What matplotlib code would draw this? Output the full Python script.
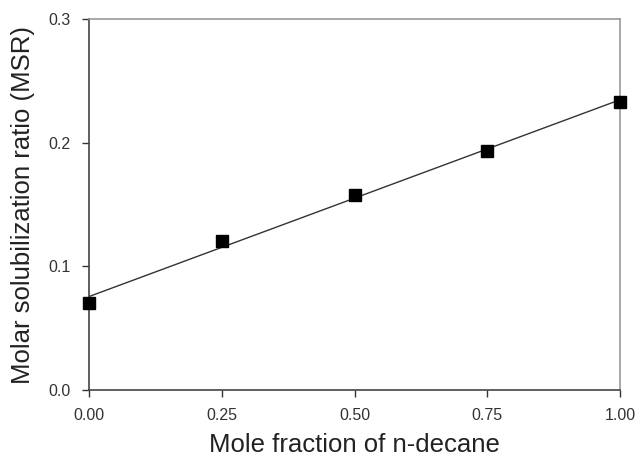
import numpy as np
import matplotlib
matplotlib.use("Agg")
import matplotlib.pyplot as plt

plt.rcParams['font.family'] = ['Liberation Sans', 'DejaVu Sans']

# data
mole_fraction = [0.00, 0.25, 0.50, 0.75, 1.00]
msr = [0.0706, 0.1205, 0.158, 0.1935, 0.233]
x_ticks = [0.00, 0.25, 0.50, 0.75, 1.00]
x_tick_labels = ['0.00', '0.25', '0.50', '0.75', '1.00']
y_ticks = [0.0, 0.1, 0.2, 0.3]
y_tick_labels = ['0.0', '0.1', '0.2', '0.3']

# linear regression line
slope, intercept = np.polyfit(mole_fraction, msr, 1)
fit_x = np.array([0.0, 1.0])
fit_y = slope * fit_x + intercept

fig = plt.figure(figsize=(6.37, 4.62), dpi=100)
ax = fig.add_axes([89 / 637, 1 - 390 / 462, (620 - 89) / 637, (390 - 19) / 462])

ax.plot(fit_x, fit_y, color='#333333', lw=1.0, zorder=2)
ax.plot(mole_fraction, msr, 's', color='black', ms=8, zorder=3, clip_on=False)

ax.set_xlim(0, 1)
ax.set_ylim(0, 0.3)
ax.set_xticks(x_ticks)
ax.set_xticklabels(x_tick_labels)
ax.set_yticks(y_ticks)
ax.set_yticklabels(y_tick_labels)
ax.tick_params(direction='out', length=5, width=1, labelsize=11.5,
               colors='#333333', labelcolor='#333333', pad=8)

for side in ['left', 'bottom']:
    ax.spines[side].set_color('#444444')
    ax.spines[side].set_linewidth(1.2)
for side in ['top', 'right']:
    ax.spines[side].set_color('#999999')
    ax.spines[side].set_linewidth(1.2)

ax.set_xlabel('Mole fraction of n-decane', fontsize=18.5, color='#222222', labelpad=7)
ax.set_ylabel('Molar solubilization ratio (MSR)', fontsize=18.5, color='#222222', labelpad=10)

fig.savefig('out.png', dpi=100)
